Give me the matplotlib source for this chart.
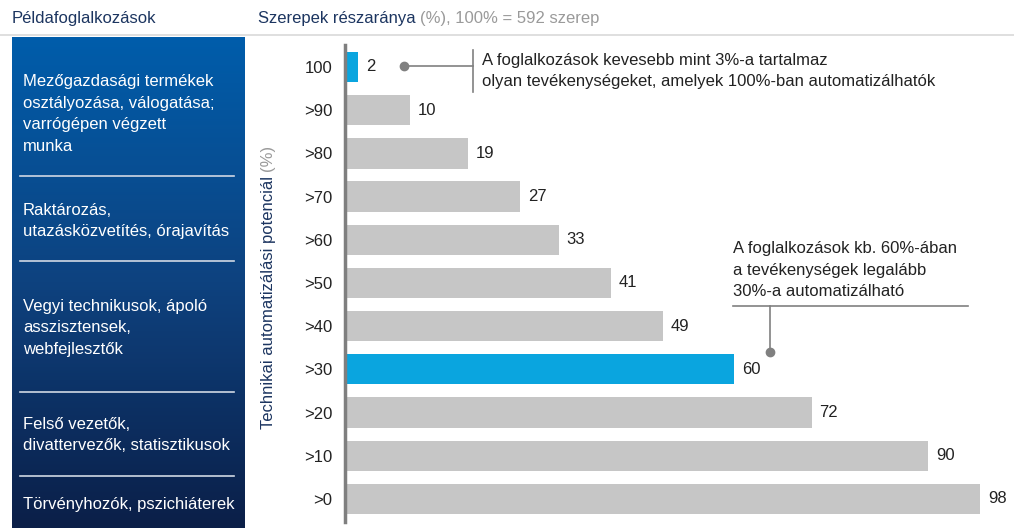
import numpy as np
import matplotlib.pyplot as plt
from matplotlib.colors import LinearSegmentedColormap

plt.rcParams['font.family'] = ['Liberation Sans', 'DejaVu Sans']

# Data ........................................................................

levels = ["100", ">90", ">80", ">70", ">60", ">50", ">40", ">30", ">20", ">10", ">0"]
shares = [2, 10, 19, 27, 33, 41, 49, 60, 72, 90, 98]
highlight = ["100", ">30"]

examples = [
    "Mezőgazdasági termékek\nosztályozása, válogatása;\nvarrógépen végzett\nmunka",
    "Raktározás,\nutazásközvetítés, órajavítás",
    "Vegyi technikusok, ápoló\nasszisztensek,\nwebfejlesztők",
    "Felső vezetők,\ndivattervezők, statisztikusok",
    "Törvényhozók, pszichiáterek",
]
example_y = [114, 221, 328, 435, 504]
separator_y = [176, 261, 392, 476]

note_top = "A foglalkozások kevesebb mint 3%-a tartalmaz\nolyan tevékenységeket, amelyek 100%-ban automatizálhatók"
note_mid = "A foglalkozások kb. 60%-ában\na tevékenységek legalább\n30%-a automatizálható"

W, H = 1014, 528
BLUE = "#0aa5df"
GREY = "#c6c6c6"
DARK = "#222222"
NAVY = "#1c3560"


def fx(px):
    return px / W


def fy(py):
    return 1 - py / H


fig = plt.figure(figsize=(W / 100, H / 100), dpi=100)

# Header ......................................................................

fig.text(fx(12), fy(18), "Példafoglalkozások", fontsize=12, color=NAVY, va="center")
t = fig.text(fx(258), fy(18), "Szerepek részaránya ", fontsize=12, color=NAVY, va="center")
fig.canvas.draw()
bb = t.get_window_extent()
fig.text(bb.x1 / W, fy(18), "(%), 100% = 592 szerep", fontsize=12, color="#9a9a9a", va="center")
fig.add_artist(plt.Line2D([0, 1], [fy(35), fy(35)], color="#d9d9d9", lw=1.2))

# Left panel with gradient ....................................................

left = fig.add_axes([fx(12), 0, fx(233), fy(37)])
cmap = LinearSegmentedColormap.from_list("g", ["#005dab", "#0e427f", "#0b1f48"])
left.imshow(np.linspace(0, 1, 256).reshape(-1, 1), aspect="auto", cmap=cmap,
            extent=[0, 1, 0, 1])
left.set_xlim(0, 1)
left.set_ylim(0, 1)
left.axis("off")

for txt, yc in zip(examples, example_y):
    fig.text(fx(23), fy(yc), txt, fontsize=12, color="white", va="center",
             linespacing=1.55)
for ys in separator_y:
    fig.add_artist(plt.Line2D([fx(20), fx(234)], [fy(ys), fy(ys)],
                              color="#d0d8e4", lw=1.2))

# Bar chart ...................................................................

ax = fig.add_axes([fx(345), fy(522), fx(W - 345), fy(45) - fy(522)])
ypos = np.arange(len(levels))
colors = [BLUE if lv in highlight else GREY for lv in levels]
ax.barh(ypos, shares, height=0.7, color=colors)
for y, v in zip(ypos, shares):
    ax.text(v + 1.2, y, str(v), va="center", ha="left", fontsize=12, color=DARK)

ax.set_xlim(0, 103.2)
ax.set_ylim(10.533, -0.509)
ax.set_yticks(ypos)
ax.set_yticklabels(levels, fontsize=12, color=DARK)
ax.tick_params(axis="y", length=0, pad=9)
ax.set_xticks([])
for s in ["top", "right", "bottom"]:
    ax.spines[s].set_visible(False)
ax.spines["left"].set_color("#7f7f7f")
ax.spines["left"].set_linewidth(2.5)

# Y axis title
t = fig.text(fx(268), fy(300), "Technikai automatizálási potenciál ", rotation=90,
             fontsize=12, color=NAVY, ha="center", va="center")
fig.canvas.draw()
bb = t.get_window_extent()
fig.text(fx(268), bb.y1 / H, "(%)", rotation=90, fontsize=12, color="#9a9a9a",
         ha="center", va="bottom")

# Annotations .................................................................

fig.add_artist(plt.Line2D([fx(404), fx(473)], [fy(66), fy(66)], color="#808080", lw=1.2))
fig.add_artist(plt.Line2D([fx(404)], [fy(66)], marker="o", ms=6, color="#808080"))
fig.add_artist(plt.Line2D([fx(473), fx(473)], [fy(50), fy(92)], color="#808080", lw=1.2))
fig.text(fx(482), fy(71), note_top, fontsize=12, color=DARK, va="center", linespacing=1.5)

fig.text(fx(733), fy(270), note_mid, fontsize=12, color=DARK, va="center", linespacing=1.5)
fig.add_artist(plt.Line2D([fx(733), fx(968)], [fy(306), fy(306)], color="#808080", lw=1.2))
fig.add_artist(plt.Line2D([fx(770), fx(770)], [fy(306), fy(352)], color="#808080", lw=1.2))
fig.add_artist(plt.Line2D([fx(770)], [fy(352)], marker="o", ms=6, color="#808080"))

fig.savefig("out.png", dpi=100)
